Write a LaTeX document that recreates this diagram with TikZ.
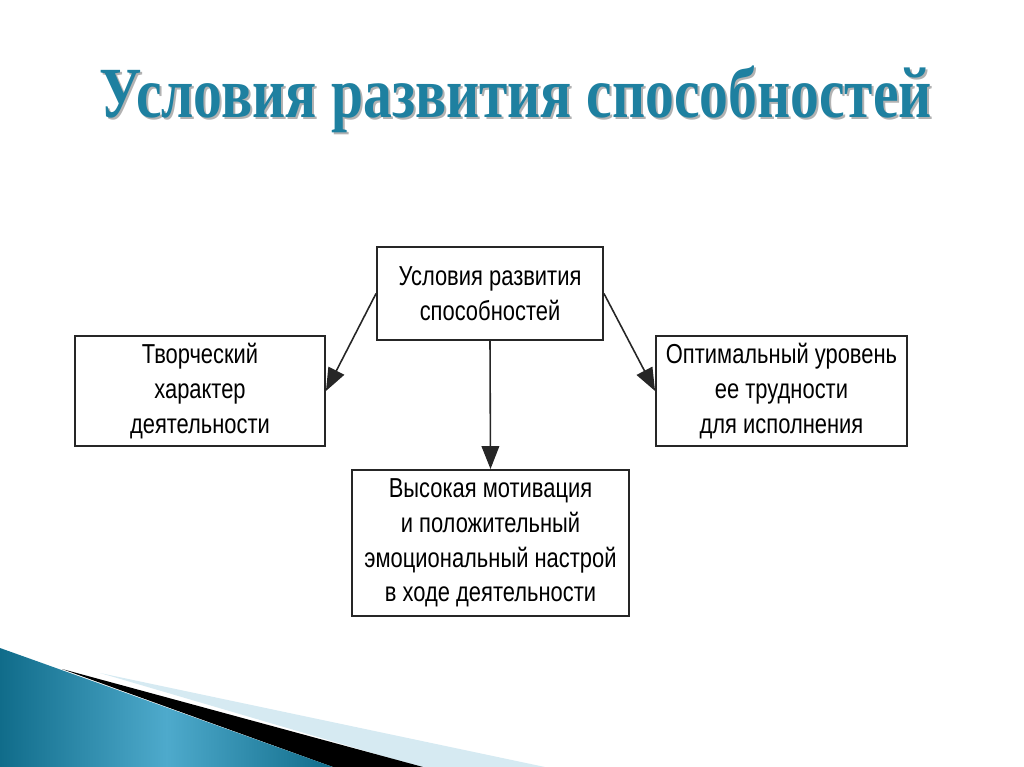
\documentclass[tikz,border=0pt]{standalone}
\usepackage{fontspec}
\setmainfont{Liberation Serif}
\newfontfamily\boxfont[FakeStretch=0.8]{Liberation Sans}
\newfontfamily\titlefont[FakeStretch=0.8]{Liberation Serif}
\usetikzlibrary{arrows.meta}

\definecolor{tealdark}{RGB}{16,108,138}
\definecolor{teallight}{RGB}{78,170,204}
\definecolor{paleblue}{RGB}{214,234,242}
\definecolor{titleteal}{RGB}{30,128,160}

\begin{document}
\begin{tikzpicture}[x=0.02cm,y=-0.02cm,
    box/.style={draw=black!85,line width=1.1pt,fill=white,align=center,inner sep=0pt,
      font=\boxfont\fontsize{15.6}{19.8}\selectfont},
    link/.style={-{Triangle[length=13pt,width=10pt]},line width=0.9pt,draw=black!85}]
    \useasboundingbox (0,0) rectangle (1024,767);

    % corner decoration
    \fill[paleblue] (100,673) -- (545,767) -- (420,767) -- cycle;
    \fill[black] (62,669) -- (423,767) -- (333,767) -- cycle;
    \shade[left color=tealdark,right color=tealdark,middle color=teallight]
      (0,648) -- (333,767) -- (0,767) -- cycle;

    % title
    \node[font=\titlefont\bfseries\fontsize{41}{45}\selectfont,text=black!30] (titleshadow) at (518,101) {Условия развития способностей};
    \node[font=\titlefont\bfseries\fontsize{41}{45}\selectfont,text=titleteal] (title) at (516,99) {Условия развития способностей};

    % boxes
    \node[box,minimum width=4.52cm,minimum height=1.86cm] (cond) at (490,293.5) {Условия развития\\способностей};
    \node[box,minimum width=5cm,minimum height=2.2cm] (creative) at (200,391) {Творческий\\характер\\деятельности};
    \node[box,minimum width=5.02cm,minimum height=2.2cm] (optimal) at (781.5,391) {Оптимальный уровень\\ее трудности\\для исполнения};
    \node[box,minimum width=5.54cm,minimum height=2.92cm] (motiv) at (490.5,543) {Высокая мотивация\\и положительный\\эмоциональный настрой\\в ходе деятельности};

    % links
    \draw[link] (cond.west) -- (creative.east);
    \draw[link] (cond.east) -- (optimal.west);
    \draw[link] (cond.south) -- (motiv.north);
\end{tikzpicture}
\end{document}
